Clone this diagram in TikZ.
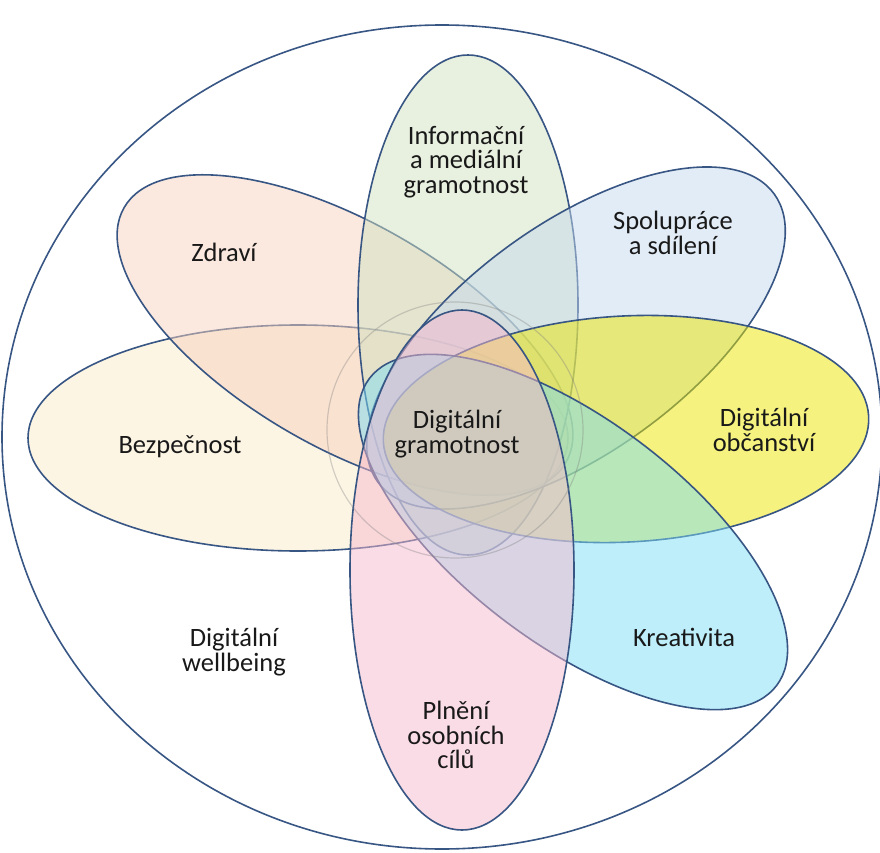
\documentclass[tikz,border=0pt]{standalone}
\usepackage{fontspec}
\setmainfont{Carlito}
\definecolor{petalline}{RGB}{56,86,132}
\definecolor{bezpcol}{RGB}{251,235,201}
\definecolor{zdravicol}{RGB}{247,209,189}
\definecolor{infocol}{RGB}{209,225,193}
\definecolor{spolcol}{RGB}{197,217,237}
\definecolor{obcancol}{RGB}{235,229,0}
\definecolor{kreacol}{RGB}{125,221,245}
\definecolor{plnenicol}{RGB}{245,185,205}
\begin{document}
\begin{tikzpicture}[x=1pt,y=-1pt,
    petal/.style={draw=petalline,line width=1.6pt,fill opacity=0.5},
    lbl/.style={align=center,text=black!90,font=\fontsize{26.5}{24.5}\selectfont}]
  \useasboundingbox (0,0) rectangle (880,853);
  % outer circle
  \draw[petalline,line width=1.6pt] (442,437) ellipse [x radius=440pt,y radius=412pt];
  % petals, bottom to top
  \draw[petal,fill=bezpcol] (298,438) ellipse [x radius=270pt,y radius=113pt];
  \draw[petal,fill=zdravicol,rotate around={-30:(345,335)}] (345,335) ellipse [x radius=255pt,y radius=112pt];
  \draw[petal,fill=infocol] (468,305) ellipse [x radius=110pt,y radius=250pt];
  \draw[petal,fill=spolcol,rotate around={36:(576,338)}] (576,338) ellipse [x radius=245pt,y radius=114pt];
  \draw[petal,fill=obcancol,rotate around={3:(626,429)}] (626,429) ellipse [x radius=243pt,y radius=113pt];
  \draw[petal,fill=kreacol,rotate around={-37:(573,532)}] (573,532) ellipse [x radius=255pt,y radius=112pt];
  \draw[petal,fill=plnenicol] (462,570) ellipse [x radius=112pt,y radius=260pt];
  % faint ring in the middle
  \draw[gray,opacity=0.35,line width=1.2pt] (455,430) circle [radius=128pt];
  % labels
  \draw
    (466,162) node[lbl] (info) {Informační\\a mediální\\gramotnost}
    (224,252) node[lbl] (zdravi) {Zdraví}
    (673,233) node[lbl] (spol) {Spolupráce\\a sdílení}
    (180,447) node[lbl] (bezp) {Bezpečnost}
    (457,434) node[lbl] (digi) {Digitální\\gramotnost}
    (764,430) node[lbl] (obcan) {Digitální\\občanství}
    (684,637) node[lbl] (krea) {Kreativita}
    (234,652) node[lbl] (well) {Digitální\\wellbeing}
    (456,735) node[lbl] (plneni) {Plnění\\osobních\\cílů};
\end{tikzpicture}
\end{document}
